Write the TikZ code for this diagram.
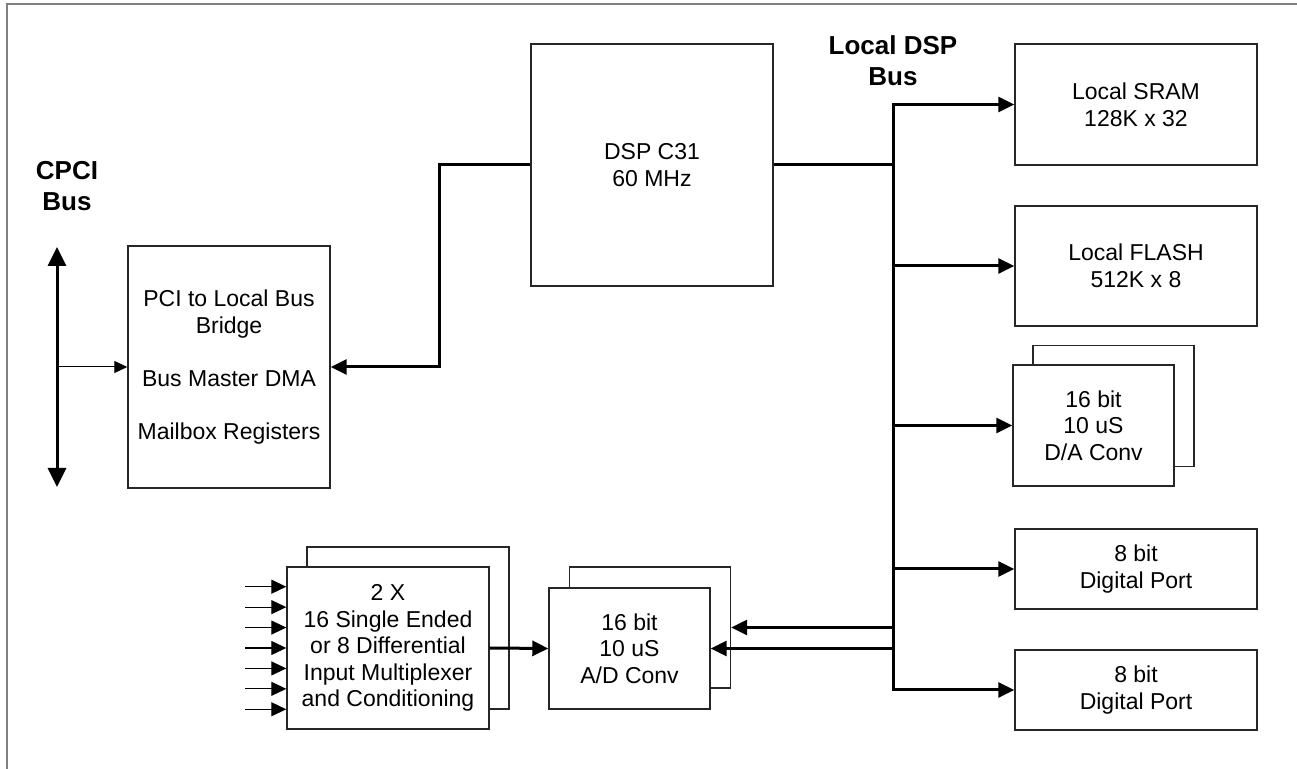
\documentclass[tikz,border=0pt]{standalone}
\usepackage{fontspec}
\setmainfont{Liberation Sans}
\usetikzlibrary{arrows.meta,calc}
\newcommand\diagtxt{\fontsize{11.5}{13.3}\selectfont}
\newcommand\diaglbl{\fontsize{13}{15.5}\selectfont\bfseries}
\begin{document}
\begin{tikzpicture}[x=0.5pt,y=-0.5pt,
  box/.style={draw=black!85,line width=0.7pt,fill=white,align=center,inner sep=0pt,font=\diagtxt},
  lbl/.style={font=\diaglbl,align=center,inner sep=0pt},
  bw/.style={line width=1.5pt},
  tip/.style={-{Triangle[length=8pt,width=7.5pt]}},
  bothtip/.style={{Triangle[length=8pt,width=7.5pt]}-{Triangle[length=8pt,width=7.5pt]}},
  frameline/.style={draw=black!50,line width=1pt}]
\useasboundingbox (0,0) rectangle (1297,769);
\draw[frameline] (7,769) -- (7,4) -- (1297,4);

% labels
\node[lbl] (cpci) at (67,186.5) {CPCI\\Bus};
\node[lbl] (dsplbl) at (893,61) {Local DSP\\Bus};

% boxes
\node[box,minimum width=101pt,minimum height=121pt] (bridge) at (229,367)
  {PCI to Local Bus\\Bridge\\[13.3pt]Bus Master DMA\\[13.3pt]Mailbox Registers};
\node[box,minimum width=121pt,minimum height=121pt] (dsp) at (652,165) {DSP C31\\60 MHz};
\node[box,minimum width=121pt,minimum height=60.5pt] (sram) at (1136,104.5) {Local SRAM\\128K x 32};
\node[box,minimum width=121pt,minimum height=60pt] (flash) at (1136,266) {Local FLASH\\512K x 8};
\node[box,minimum width=80.5pt,minimum height=60.5pt] (daback) at (1113.5,406) {};
\node[box,minimum width=80.5pt,minimum height=60.5pt] (da) at (1093.5,425.5) {16 bit\\10 uS\\D/A Conv};
\node[box,minimum width=121pt,minimum height=40pt] (dpa) at (1136,569) {8 bit\\Digital Port};
\node[box,minimum width=121pt,minimum height=40pt] (dpb) at (1136,690) {8 bit\\Digital Port};
\node[box,minimum width=80.5pt,minimum height=60.5pt] (adback) at (650,627.5) {};
\node[box,minimum width=80.5pt,minimum height=60.5pt] (ad) at (629.5,648.5) {16 bit\\10 uS\\A/D Conv};
\node[box,minimum width=101pt,minimum height=81pt] (muxback) at (408,628) {};
\node[box,minimum width=101pt,minimum height=81pt] (mux) at (388,648)
  {2 X\\16 Single Ended\\or 8 Differential\\Input Multiplexer\\and Conditioning};

% CPCI bus
\coordinate (cpcitop) at (57,247);
\coordinate (cpcibot) at (57,487);
\draw[line width=1.5pt,{Triangle[length=9.5pt,width=9pt]}-{Triangle[length=9.5pt,width=9pt]}] (cpcitop) -- (cpcibot);
\draw[line width=0.5pt,-{Triangle[length=6.5pt,width=6pt]}] (cpcitop |- bridge.west) -- (bridge.west);

% DSP to bridge
\draw[bw,tip] (dsp.west) -- ++(-91,0) |- (bridge.east);

% local DSP bus
\coordinate (bus) at (893,400);
\draw[bw,bothtip] (sram.west) -| (bus) |- (dpb.west);
\draw[bw] (dsp.east) -- (bus |- dsp.east);
\draw[bw,tip] (bus |- flash.west) -- (flash.west);
\draw[bw,tip] (bus |- da.west) -- (da.west);
\draw[bw,tip] (bus |- dpa.west) -- (dpa.west);
\draw[bw,tip] (bus |- adback.east) -- (adback.east);
\draw[bw,tip] (bus |- ad.east) -- (ad.east);

% mux to A/D
\draw[bw,tip] (mux.east) -- (ad.west);

% mux inputs
\foreach \k in {1,...,7} {
  \coordinate (in\k) at ($(mux.north west)!\k/8!(mux.south west)$);
  \coordinate (src\k) at ($(in\k)+(-41,0)$);
  \draw[line width=0.6pt,-{Triangle[length=7.5pt,width=7pt]}] (src\k) -- (in\k);
}
\end{tikzpicture}
\end{document}
